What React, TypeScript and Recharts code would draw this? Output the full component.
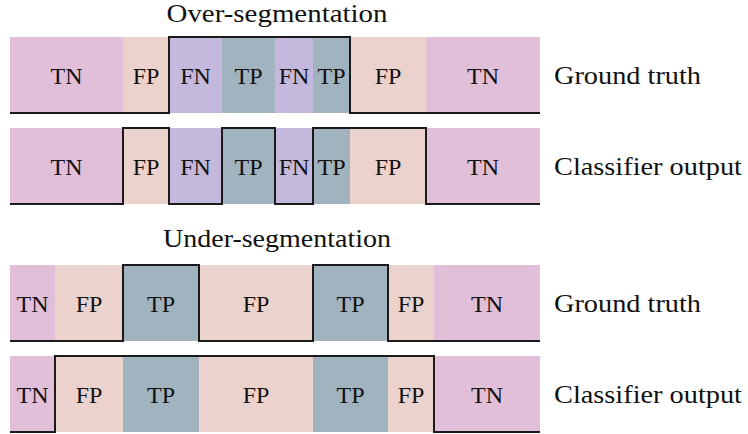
import { ComposedChart, Line, XAxis, YAxis, ReferenceArea } from 'recharts';

// segment boundaries along the time axis and the outcome in each segment
const overBounds = [0, 113, 159, 212, 265, 303, 340, 416, 530];
const overLabels = ['TN', 'FP', 'FN', 'TP', 'FN', 'TP', 'FP', 'TN'];
const underBounds = [0, 45, 113, 189, 303, 378, 424, 530];
const underLabels = ['TN', 'FP', 'TP', 'FP', 'TP', 'FP', 'TN'];

const rowNames = ['Ground truth', 'Classifier output'];
const titles = ['Over-segmentation', 'Under-segmentation'];

const colors: Record<string, string> = {
  TN: '#e2bfd9',
  FP: '#ecd2cc',
  FN: '#c4b9dc',
  TP: '#a0b3be',
};

const FONT = '"Liberation Serif", "Times New Roman", serif';
const W = 748;
const H = 434;

// band top/bottom for each of the four rows (pixel-equivalent y units)
const rows = [
  { top: 37, bottom: 113 },
  { top: 128, bottom: 204 },
  { top: 265, bottom: 341 },
  { top: 356, bottom: 432 },
];

// widths the reference's Computer Modern text takes up
const rowNameLen = [147, 188];
const titleLen = [221, 228];
const titleY = [13, 238];

const positiveTruth = (l: string) => l === 'TP' || l === 'FN';
const positivePred = (l: string) => l === 'TP' || l === 'FP';

function stepData(bounds: number[], labels: string[], pos: (l: string) => boolean, row: { top: number; bottom: number }) {
  const pts = labels.map((l, i) => ({ x: bounds[i], y: pos(l) ? row.top : row.bottom }));
  pts.push({ x: bounds[bounds.length - 1], y: pts[pts.length - 1].y });
  return pts;
}

const groups = [
  { bounds: overBounds, labels: overLabels, rowIdx: [0, 1] },
  { bounds: underBounds, labels: underLabels, rowIdx: [2, 3] },
];

export default function App() {
  return (
    <div style={{ width: W, height: H, background: '#fff' }}>
      <style>{'body{margin:0}'}</style>
      <ComposedChart width={W} height={H} margin={{ top: 0, right: 0, bottom: 0, left: 0 }}>
        <XAxis type="number" dataKey="x" domain={[-10, 738]} hide allowDataOverflow />
        <YAxis type="number" domain={[0, H]} reversed hide allowDataOverflow />
        {groups.map((g, gi) =>
          g.rowIdx.map((ri) =>
            g.labels.map((l, si) => (
              <ReferenceArea
                key={`a-${gi}-${ri}-${si}`}
                x1={g.bounds[si]}
                x2={g.bounds[si + 1]}
                y1={rows[ri].top}
                y2={rows[ri].bottom}
                fill={colors[l]}
                fillOpacity={1}
                stroke="none"
                ifOverflow="visible"
                label={{ value: l, position: 'center', fill: '#111', fontSize: 24, fontFamily: FONT }}
              />
            ))
          )
        )}
        {groups.map((g, gi) =>
          g.rowIdx.map((ri, k) => (
            <Line
              key={`l-${gi}-${ri}`}
              data={stepData(g.bounds, g.labels, k === 0 ? positiveTruth : positivePred, rows[ri])}
              dataKey="y"
              type="stepAfter"
              stroke="#1a1a1a"
              strokeWidth={2}
              dot={false}
              activeDot={false}
              isAnimationActive={false}
            />
          ))
        )}
        {rows.map((r, ri) => (
          <text
            key={`n-${ri}`}
            x={554}
            y={(r.top + r.bottom) / 2}
            dominantBaseline="central"
            fontSize={25}
            fontFamily={FONT}
            textLength={rowNameLen[ri % 2]}
            lengthAdjust="spacingAndGlyphs"
            fill="#111"
          >
            {rowNames[ri % 2]}
          </text>
        ))}
        {titles.map((t, ti) => (
          <text
            key={`t-${ti}`}
            x={277}
            y={titleY[ti]}
            textAnchor="middle"
            dominantBaseline="central"
            fontSize={25}
            fontFamily={FONT}
            textLength={titleLen[ti]}
            lengthAdjust="spacingAndGlyphs"
            fill="#111"
          >
            {t}
          </text>
        ))}
      </ComposedChart>
    </div>
  );
}
